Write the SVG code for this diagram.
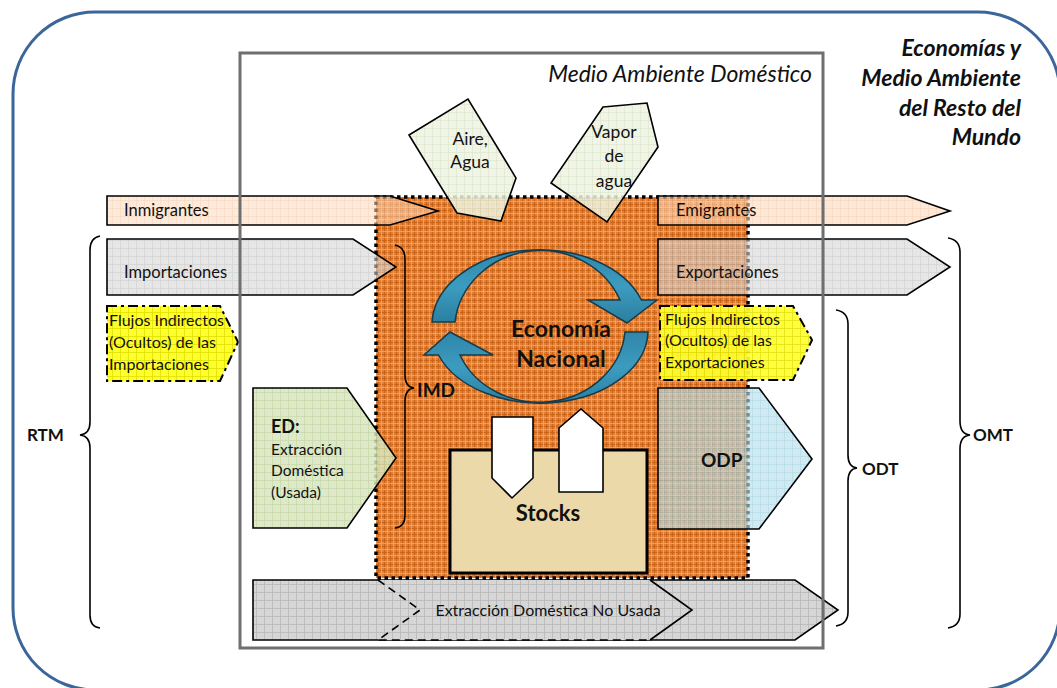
<svg xmlns="http://www.w3.org/2000/svg" width="1057" height="688" viewBox="0 0 1057 688">
<defs>
<style>
text{font-family:Lato,"Liberation Sans",sans-serif;fill:#111}
.b{font-weight:bold}
.i{font-style:italic}
.ln{stroke:#000;stroke-width:1.6;stroke-linejoin:miter}
.br{fill:none;stroke:#000;stroke-width:1.6}
.dd{stroke:#000;stroke-width:2;stroke-dasharray:10 4 3 4}
</style>
<pattern id="pOr" width="6" height="6" patternUnits="userSpaceOnUse"><rect width="6" height="6" fill="#e08038"/><path d="M0 0.5H6M0.5 0V6" stroke="#cc6418" stroke-width="1"/><path d="M0 3.5H6M3.5 0V6" stroke="#eea86c" stroke-width="0.8"/></pattern>
<pattern id="pPe" width="8" height="8" patternUnits="userSpaceOnUse"><rect width="8" height="8" fill="#fcd8bc"/><path d="M0 0.5H8M0.5 0V8" stroke="#f3bf98" stroke-width="0.8"/></pattern>
<pattern id="pGr" width="8" height="8" patternUnits="userSpaceOnUse"><rect width="8" height="8" fill="#d6d6d6"/><path d="M0 0.5H8M0.5 0V8" stroke="#b8b8b8" stroke-width="0.8"/></pattern>
<pattern id="pYe" width="8" height="8" patternUnits="userSpaceOnUse"><rect width="8" height="8" fill="#ffff30"/><path d="M0 0.5H8M0.5 0V8" stroke="#e0e000" stroke-width="0.8"/></pattern>
<pattern id="pGn" width="8" height="8" patternUnits="userSpaceOnUse"><rect width="8" height="8" fill="#d8e5bf"/><path d="M0 0.5H8M0.5 0V8" stroke="#c0d39c" stroke-width="0.8"/></pattern>
<pattern id="pBl" width="8" height="8" patternUnits="userSpaceOnUse"><rect width="8" height="8" fill="#b9dfea"/><path d="M0 0.5H8M0.5 0V8" stroke="#8fcadb" stroke-width="0.8"/></pattern>
<pattern id="pPa" width="8" height="8" patternUnits="userSpaceOnUse"><rect width="8" height="8" fill="#eff3e3"/><path d="M0 0.5H8M0.5 0V8" stroke="#dbe4c6" stroke-width="0.8"/></pattern>
<linearGradient id="gBl" x1="0" y1="0" x2="0" y2="1"><stop offset="0" stop-color="#2f86a8"/><stop offset="0.5" stop-color="#3c9cc0"/><stop offset="1" stop-color="#2a7fa0"/></linearGradient>
</defs>

<g id="world">
<rect x="13" y="12" width="1047" height="678" rx="82" ry="82" fill="#fff" stroke="#3b6699" stroke-width="3"/>
<text class="b i" x="1021" y="56" font-size="23" text-anchor="end">Economías y</text>
<text class="b i" x="1021" y="86" font-size="23" text-anchor="end">Medio Ambiente</text>
<text class="b i" x="1021" y="116" font-size="23" text-anchor="end">del Resto del</text>
<text class="b i" x="1021" y="145" font-size="23" text-anchor="end">Mundo</text>
</g>

<g id="domestic">
<text class="i" x="812" y="82" font-size="23" text-anchor="end">Medio Ambiente Doméstico</text>
</g>

<g id="economia">
<rect x="376" y="197" width="372" height="381" fill="url(#pOr)" stroke="#000" stroke-width="3.5" stroke-dasharray="3.5 3.5"/>
</g>

<g id="stocks">
<rect x="450" y="450" width="197" height="123" fill="#ebd9a9" stroke="#000" stroke-width="3"/>
<text class="b" x="548" y="521" font-size="22" text-anchor="middle">Stocks</text>
<polygon points="492,417 533,417 533,478 512,498 492,478" fill="#fff" class="ln"/>
<polygon points="559,492 603,492 603,428 581,409 559,428" fill="#fff" class="ln"/>
</g>

<g id="edn">
<polygon points="253,580 795,580 838,610 795,640 253,640" fill="url(#pGr)" class="ln"/>
<polygon points="378,580 650,580 692,610 650,640 378,640 420,610" fill="url(#pGr)" stroke="none"/>
<path d="M378,580 L420,610 L378,640 L650,640" fill="none" stroke="#000" stroke-width="1.6" stroke-dasharray="8 5"/>
<path d="M650,580 L692,610 L650,640" fill="none" class="ln"/>
<text x="548" y="616" font-size="16" text-anchor="middle">Extracción Doméstica No Usada</text>
</g>

<g id="inmigrantes">
<polygon points="107,196 390,196 438,211 390,225 107,225" fill="url(#pPe)" fill-opacity="0.55" class="ln"/>
<text x="124" y="216" font-size="16.5">Inmigrantes</text>
</g>
<g id="emigrantes">
<polygon points="658,196 907,196 950,211 907,225 658,225" fill="url(#pPe)" fill-opacity="0.6" class="ln"/>
<text x="676" y="216" font-size="16.5">Emigrantes</text>
</g>
<g id="importaciones">
<polygon points="107,239 353,239 396,267 353,295 107,295" fill="url(#pGr)" fill-opacity="0.6" class="ln"/>
<text x="124" y="278" font-size="16.5">Importaciones</text>
</g>
<g id="exportaciones">
<polygon points="658,239 907,239 950,267 907,295 658,295" fill="url(#pGr)" fill-opacity="0.6" class="ln"/>
<text x="676" y="278" font-size="16.5">Exportaciones</text>
</g>

<g id="fi-imp">
<polygon points="107,306 220,306 238,342 220,381 107,381" fill="url(#pYe)" class="dd"/>
<text x="109" y="326" font-size="16">Flujos Indirectos</text>
<text x="109" y="348" font-size="16">(Ocultos) de  las</text>
<text x="109" y="370" font-size="16">Importaciones</text>
</g>
<g id="fi-exp">
<polygon points="660,306 793,306 812,340 793,380 660,380" fill="url(#pYe)" fill-opacity="0.92" class="dd"/>
<text x="665" y="325" font-size="16">Flujos Indirectos</text>
<text x="665" y="346" font-size="16">(Ocultos) de las</text>
<text x="665" y="368" font-size="16">Exportaciones</text>
</g>

<g id="ed">
<polygon points="253,388 347,388 396,458 347,528 253,528" fill="url(#pGn)" fill-opacity="0.85" class="ln"/>
<text class="b" x="271" y="433" font-size="18">ED:</text>
<text x="271" y="455" font-size="15.5">Extracción</text>
<text x="271" y="476" font-size="15.5">Doméstica</text>
<text x="271" y="498" font-size="15.5">(Usada)</text>
</g>

<g id="odp">
<polygon points="658,388 759,388 812,459 759,529 658,529" fill="url(#pBl)" fill-opacity="0.65" class="ln"/>
<text class="b" x="701" y="467" font-size="19">ODP</text>
</g>

<g id="aire">
<polygon points="409,135 468,99 516,178 501,221 457,213" fill="url(#pPa)" fill-opacity="0.85" class="ln"/>
<text x="470" y="145" font-size="17.5" text-anchor="middle">Aire,</text>
<text x="470" y="168" font-size="17.5" text-anchor="middle">Agua</text>
</g>
<g id="vapor">
<polygon points="603,107 647,103 658,147 607,222 551,183" fill="url(#pPa)" fill-opacity="0.85" class="ln"/>
<text x="614" y="138" font-size="17.5" text-anchor="middle">Vapor</text>
<text x="614" y="162" font-size="17.5" text-anchor="middle">de</text>
<text x="614" y="187" font-size="17.5" text-anchor="middle">agua</text>
</g>

<g id="ciclo">
<path d="M432,322 A108 76 0 0 1 641.5,300 L657,300 L627,323 L588,300 L620,300 A86 80 0 0 0 455,322 Z" fill="url(#gBl)" stroke="#173b4a" stroke-width="1.5"/>
<path d="M648,332 A108 73 0 0 1 438.5,355 L424,355 L450,332 L493,355 L460,355 A86 77 0 0 0 625,332 Z" fill="url(#gBl)" stroke="#173b4a" stroke-width="1.5"/>
<text class="b" x="561" y="337" font-size="23" text-anchor="middle">Economía</text>
<text class="b" x="561" y="367" font-size="23" text-anchor="middle">Nacional</text>
</g>

<g id="connectors">
<path class="br" d="M100,236 Q90,238 90,250 L90,422 Q90,434 80,435 Q90,436 90,448 L90,615 Q90,627 100,628"/>
<path class="br" d="M948,238 Q960,240 960,252 L960,421 Q960,434 970,435 Q960,436 960,449 L960,614 Q960,626 948,628"/>
<path class="br" d="M836,310 Q848,312 848,324 L848,455 Q848,467 857,468 Q848,469 848,481 L848,612 Q848,624 836,626"/>
<path class="br" d="M395,245 Q405,247 405,259 L405,375 Q405,387 414,388 Q405,389 405,401 L405,515 Q405,527 395,528"/>
</g>

<g id="labels">
<text class="b" x="27" y="441" font-size="17">RTM</text>
<text class="b" x="973" y="441" font-size="17">OMT</text>
<text class="b" x="862" y="475" font-size="17">ODT</text>
<text class="b" x="417" y="397" font-size="19">IMD</text>
</g>

<g id="domestic-border">
<rect x="240" y="53" width="583" height="595" fill="none" stroke="#6f6f6f" stroke-width="3"/>
</g>
</svg>
